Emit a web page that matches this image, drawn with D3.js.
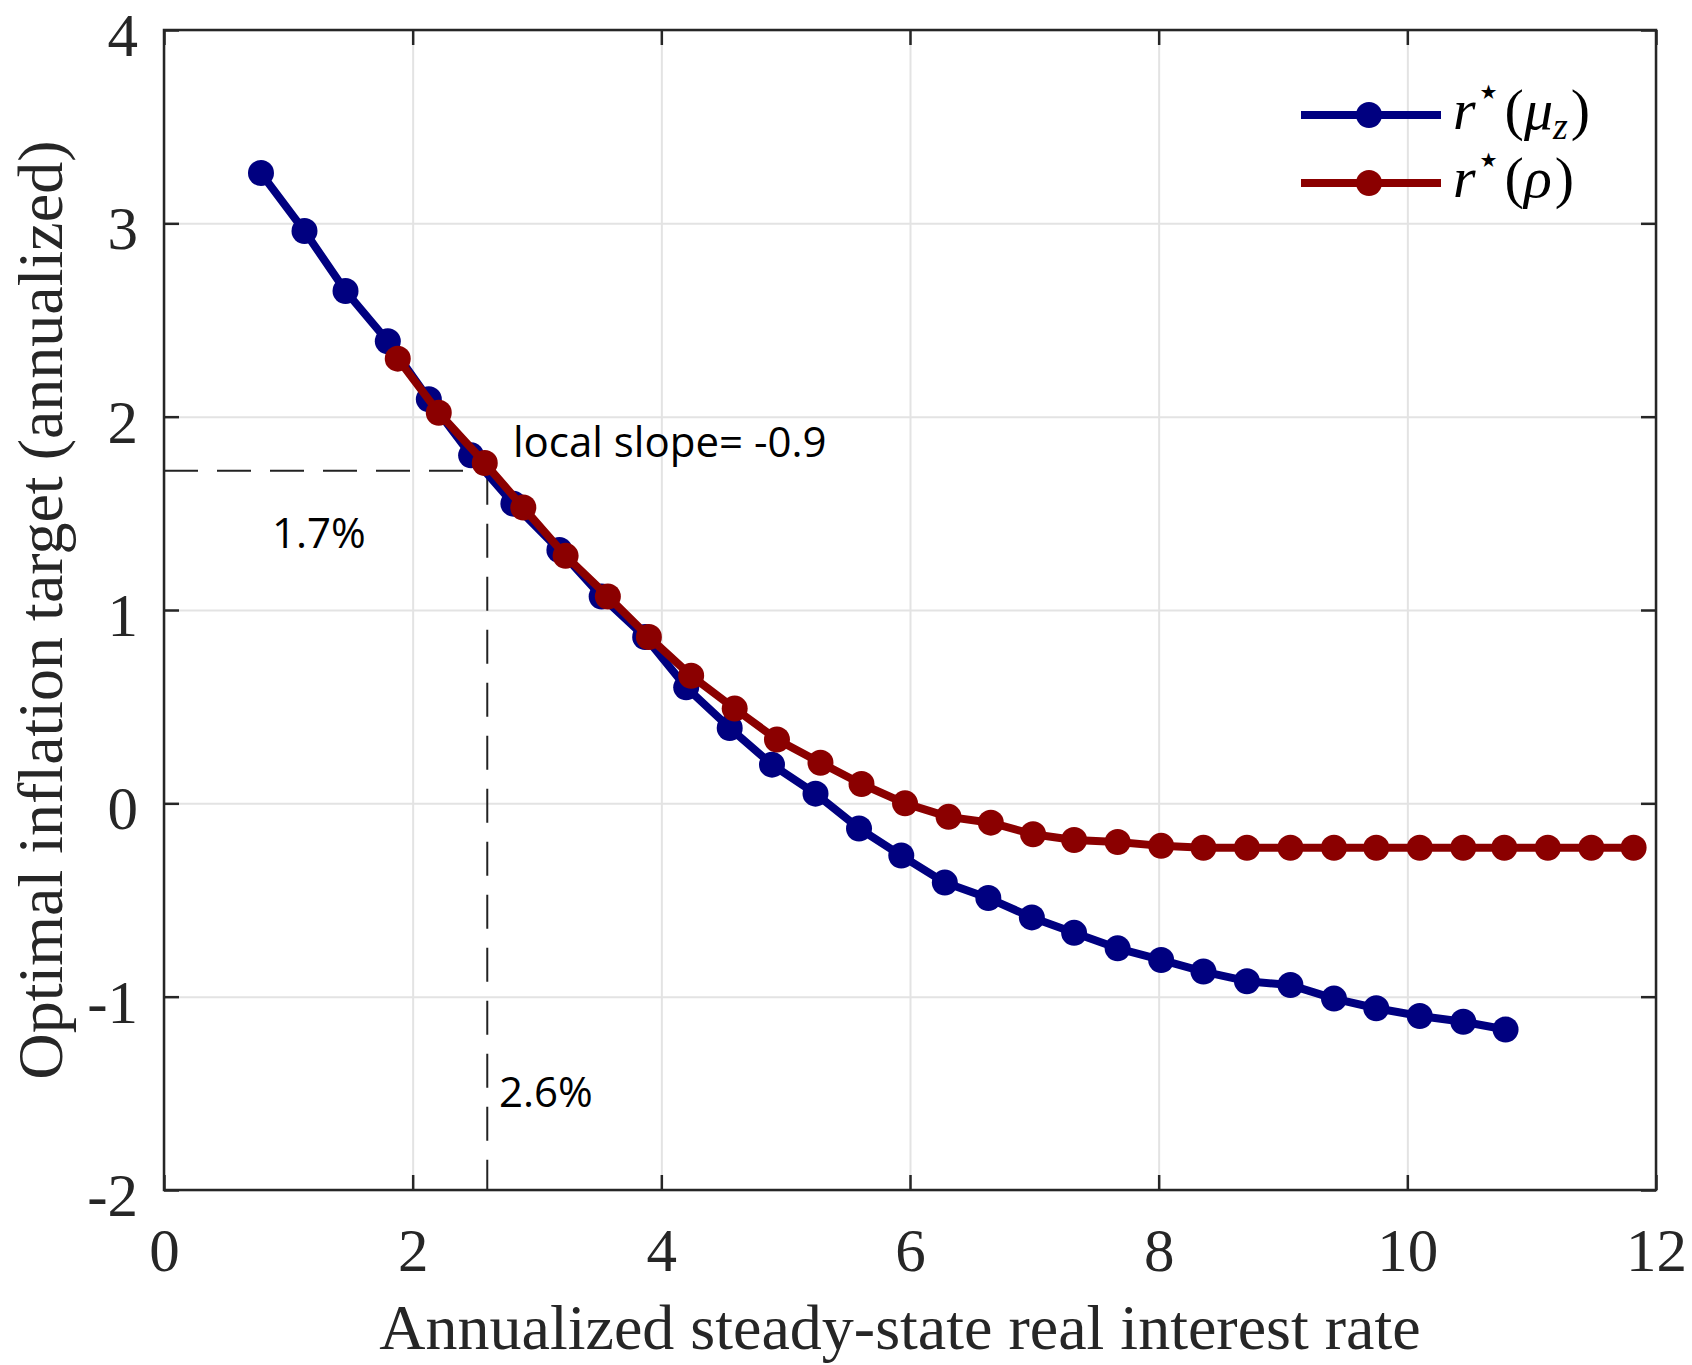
<!DOCTYPE html>
<html>
<head>
<meta charset="utf-8">
<script src="https://cdn.jsdelivr.net/npm/d3@7"></script>
<style>
  body { margin: 0; background: #fff; }
  svg { display: block; }
</style>
</head>
<body>
<div id="chart"></div>
<script>
//  data
var X_TICKS = [0, 2, 4, 6, 8, 10, 12];
var Y_TICKS = [-2, -1, 0, 1, 2, 3, 4];

var MUZ_X = [0.78, 1.13, 1.46, 1.80, 2.13, 2.47, 2.81, 3.18, 3.52, 3.87,
             4.20, 4.55, 4.89, 5.24, 5.59, 5.93, 6.28, 6.63, 6.98, 7.32,
             7.67, 8.02, 8.36, 8.71, 9.06, 9.41, 9.75, 10.10, 10.45, 10.79];
var MUZ_Y = [3.26, 2.96, 2.65, 2.39, 2.09, 1.80, 1.55, 1.31, 1.07, 0.86,
             0.60, 0.39, 0.20, 0.05, -0.13, -0.27, -0.41, -0.49, -0.59, -0.67,
             -0.75, -0.81, -0.87, -0.92, -0.94, -1.01, -1.06, -1.10, -1.13, -1.17];

var RHO_X = [1.88, 2.21, 2.58, 2.89, 3.23, 3.57, 3.90, 4.24, 4.59, 4.93,
             5.28, 5.61, 5.96, 6.31, 6.65, 6.99, 7.32, 7.67, 8.02, 8.36,
             8.71, 9.06, 9.41, 9.75, 10.10, 10.45, 10.78, 11.13, 11.48, 11.82];
var RHO_Y = [2.30, 2.02, 1.76, 1.53, 1.28, 1.07, 0.86, 0.66, 0.49, 0.33,
             0.21, 0.10, 0.00, -0.07, -0.10, -0.16, -0.19, -0.20, -0.22, -0.23,
             -0.23, -0.23, -0.23, -0.23, -0.23, -0.23, -0.23, -0.23, -0.23, -0.23];

var REF_X = 2.6;
var REF_Y = 1.72;

var SERIES = [
  {name: "muz", color: "#000080", xs: MUZ_X, ys: MUZ_Y},
  {name: "rho", color: "#8b0000", xs: RHO_X, ys: RHO_Y}
];

function draw() {
  const w = 1692, h = 1365;
  const margin = {top: 30, right: 36, bottom: 175, left: 164};
  const tickLen = 15;
  const serif = "'Liberation Serif', 'Times New Roman', serif";
  const sans = "'Open Sans', 'Noto Sans', sans-serif";

  const svg = d3.select("#chart").append("svg").attr("width", w).attr("height", h);

  const x = d3.scaleLinear().domain([0, 12]).range([margin.left, w - margin.right]);
  const y = d3.scaleLinear().domain([-2, 4]).range([h - margin.bottom, margin.top]);

  // grid
  svg.append("g")
    .attr("transform", `translate(0,${y(-2)})`)
    .call(d3.axisBottom(x).tickValues(X_TICKS).tickSize(-(y(-2) - y(4))).tickFormat(""))
    .call(g => g.select(".domain").remove())
    .selectAll("line").attr("stroke", "#e3e3e3").attr("stroke-width", 2);
  svg.append("g")
    .attr("transform", `translate(${x(0)},0)`)
    .call(d3.axisLeft(y).tickValues(Y_TICKS).tickSize(-(x(12) - x(0))).tickFormat(""))
    .call(g => g.select(".domain").remove())
    .selectAll("line").attr("stroke", "#e3e3e3").attr("stroke-width", 2);

  // reference dashed lines
  svg.append("path")
    .attr("d", `M${x(0)},${y(REF_Y)}H${x(REF_X)}M${x(REF_X)},${y(REF_Y)}V${y(-2)}`)
    .attr("fill", "none")
    .attr("stroke", "#222")
    .attr("stroke-width", 2)
    .attr("stroke-dasharray", "34,19");

  // series
  const line = d3.line().x(d => x(d[0])).y(d => y(d[1]));
  SERIES.forEach(s => {
    const pts = s.xs.map((v, i) => [v, s.ys[i]]);
    const g = svg.append("g");
    g.append("path").datum(pts)
      .attr("d", line)
      .attr("fill", "none")
      .attr("stroke", s.color)
      .attr("stroke-width", 8)
      .attr("stroke-linejoin", "round");
    g.selectAll("circle").data(pts).enter()
      .append("circle")
      .attr("cx", d => x(d[0]))
      .attr("cy", d => y(d[1]))
      .attr("r", 13)
      .attr("fill", s.color);
  });

  // axes box with inward ticks
  const axisStyle = g => {
    g.select(".domain").remove();
    g.selectAll("line").attr("stroke", "#262626").attr("stroke-width", 2.5);
    g.selectAll("text").attr("fill", "#262626").style("font-family", serif).style("font-size", "61px");
  };
  svg.append("g").attr("transform", `translate(0,${y(-2)})`)
    .call(d3.axisBottom(x).tickValues(X_TICKS).tickSizeInner(-tickLen).tickSizeOuter(0).tickPadding(38))
    .call(axisStyle);
  svg.append("g").attr("transform", `translate(0,${y(4)})`)
    .call(d3.axisTop(x).tickValues(X_TICKS).tickSizeInner(-tickLen).tickSizeOuter(0).tickFormat(""))
    .call(axisStyle);
  svg.append("g").attr("transform", `translate(${x(0)},0)`)
    .call(d3.axisLeft(y).tickValues(Y_TICKS).tickSizeInner(-tickLen).tickSizeOuter(0).tickPadding(26)
      .tickFormat(d => d < 0 ? "-" + Math.abs(d) : d))
    .call(axisStyle)
    .call(g => g.selectAll("text").attr("dy", "0.42em"));
  svg.append("g").attr("transform", `translate(${x(12)},0)`)
    .call(d3.axisRight(y).tickValues(Y_TICKS).tickSizeInner(-tickLen).tickSizeOuter(0).tickFormat(""))
    .call(axisStyle);

  svg.append("rect")
    .attr("x", x(0)).attr("y", y(4))
    .attr("width", x(12) - x(0)).attr("height", y(-2) - y(4))
    .attr("fill", "none").attr("stroke", "#262626").attr("stroke-width", 2.5);

  // axis titles
  svg.append("text")
    .attr("x", (x(0) + x(12)) / 2 - 10)
    .attr("y", 1349)
    .attr("text-anchor", "middle")
    .attr("fill", "#262626")
    .style("font-family", serif).style("font-size", "64px")
    .text("Annualized steady-state real interest rate");
  svg.append("text")
    .attr("transform", `translate(62,${(y(4) + y(-2)) / 2}) rotate(-90)`)
    .attr("text-anchor", "middle")
    .attr("fill", "#262626")
    .style("font-family", serif).style("font-size", "64px")
    .text("Optimal inflation target (annualized)");

  // annotations
  const notes = [
    {t: "local slope= -0.9", x: 513, y: 457},
    {t: "1.7%", x: 272, y: 548},
    {t: "2.6%", x: 499, y: 1107}
  ];
  svg.append("g").selectAll("text").data(notes).enter()
    .append("text")
    .attr("x", d => d.x)
    .attr("y", d => d.y)
    .attr("fill", "#000")
    .style("font-family", sans).style("font-size", "42px")
    .text(d => d.t);

  // legend
  const legend = svg.append("g");
  SERIES.forEach((s, i) => {
    const ly = 115 + i * 68;
    legend.append("line")
      .attr("x1", 1301).attr("x2", 1441).attr("y1", ly).attr("y2", ly)
      .attr("stroke", s.color).attr("stroke-width", 8);
    legend.append("circle")
      .attr("cx", 1369).attr("cy", ly).attr("r", 13).attr("fill", s.color);
    const t = legend.append("text")
      .attr("x", 1453).attr("y", ly + 14)
      .attr("fill", "#000")
      .style("font-family", serif).style("font-size", "58px");
    t.append("tspan").style("font-style", "italic").text("r");
    t.append("tspan").attr("dy", -24).style("font-size", "40px").text("\u22C6");
    t.append("tspan").attr("dy", 24).attr("dx", 4).text("(");
    if (s.name == "muz") {
      t.append("tspan").style("font-style", "italic").text("\u03BC");
      t.append("tspan").attr("dy", 10).style("font-style", "italic").style("font-size", "38px").text("z");
      t.append("tspan").attr("dy", -10).attr("dx", 3).text(")");
    } else {
      t.append("tspan").style("font-style", "italic").text("\u03C1");
      t.append("tspan").attr("dx", 3).text(")");
    }
  });
}

draw();
</script>
</body>
</html>
